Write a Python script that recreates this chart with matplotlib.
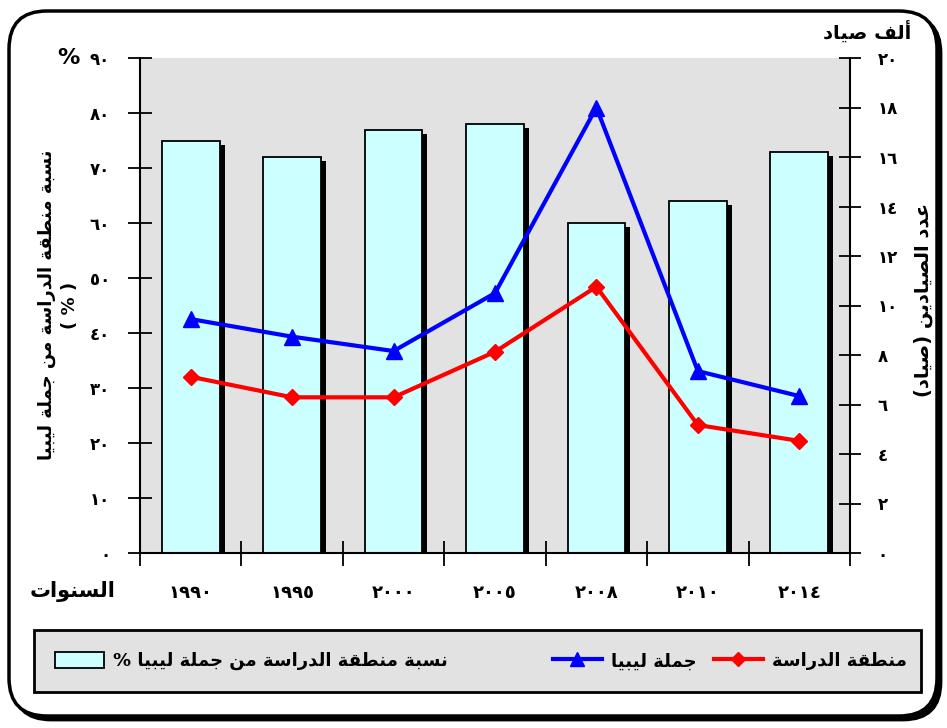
import numpy as np
import matplotlib
matplotlib.use('Agg')
import matplotlib.pyplot as plt
from matplotlib import patheffects as pe
from matplotlib.patches import FancyBboxPatch, Patch, Rectangle
from matplotlib.lines import Line2D
from matplotlib.transforms import IdentityTransform
from matplotlib.ticker import FixedLocator, FuncFormatter

# ---------------- data ----------------
years = ['١٩٩٠', '١٩٩٥', '٢٠٠٠', '٢٠٠٥', '٢٠٠٨', '٢٠١٠', '٢٠١٤']
share_pct = [75, 72, 77, 78, 60, 64, 73]              # left axis, %
libya_total = [9.45, 8.74, 8.16, 10.5, 18.0, 7.35, 6.34]   # right axis, thousand fishermen
study_area = [7.12, 6.29, 6.29, 8.13, 10.76, 5.17, 4.53]   # right axis, thousand fishermen
left_ticks = [0, 10, 20, 30, 40, 50, 60, 70, 80, 90]
right_ticks = [0, 2, 4, 6, 8, 10, 12, 14, 16, 18, 20]

label_share = 'نسبة منطقة الدراسة من جملة ليبيا %'
label_libya = 'جملة ليبيا'
label_study = 'منطقة الدراسة'
ylabel_left = 'نسبة منطقة الدراسة من جملة ليبيا'
ylabel_left2 = '( % )'
ylabel_right = 'عدد الصيادين (صياد)'
unit_right = 'ألف صياد'
unit_left = '%'
xlabel = 'السنوات'

# ---------------- minimal Arabic shaping (presentation forms + RTL) ----------------
_DUAL = {'\u0626': 0xFE89, '\u0628': 0xFE8F, '\u062A': 0xFE95, '\u062B': 0xFE99,
         '\u062C': 0xFE9D, '\u062D': 0xFEA1, '\u062E': 0xFEA5, '\u0633': 0xFEB1,
         '\u0634': 0xFEB5, '\u0635': 0xFEB9, '\u0636': 0xFEBD, '\u0637': 0xFEC1,
         '\u0638': 0xFEC5, '\u0639': 0xFEC9, '\u063A': 0xFECD, '\u0641': 0xFED1,
         '\u0642': 0xFED5, '\u0643': 0xFED9, '\u0644': 0xFEDD, '\u0645': 0xFEE1,
         '\u0646': 0xFEE5, '\u0647': 0xFEE9, '\u064A': 0xFEF1}
_RIGHT = {'\u0622': 0xFE81, '\u0623': 0xFE83, '\u0624': 0xFE85, '\u0625': 0xFE87,
          '\u0627': 0xFE8D, '\u0629': 0xFE93, '\u062F': 0xFEA9, '\u0630': 0xFEAB,
          '\u0631': 0xFEAD, '\u0632': 0xFEAF, '\u0648': 0xFEED, '\u0649': 0xFEEF}
_LAMALEF = {'\u0622': 0xFEF5, '\u0623': 0xFEF7, '\u0625': 0xFEF9, '\u0627': 0xFEFB}
_MIRROR = {'(': ')', ')': '('}


def _joins(c):
    return c in _DUAL or c in _RIGHT


def ar(text):
    out = []
    chars = list(text)
    n = len(chars)
    i = 0
    while i < n:
        c = chars[i]
        prev_links = i > 0 and chars[i - 1] in _DUAL
        if c == '\u0644' and i + 1 < n and chars[i + 1] in _LAMALEF:
            base = _LAMALEF[chars[i + 1]]
            out.append(chr(base + (1 if prev_links else 0)))
            i += 2
            continue
        if c in _DUAL:
            base = _DUAL[c]
            next_links = i + 1 < n and _joins(chars[i + 1])
            if prev_links and next_links:
                f = base + 3
            elif prev_links:
                f = base + 1
            elif next_links:
                f = base + 2
            else:
                f = base
            out.append(chr(f))
        elif c in _RIGHT:
            base = _RIGHT[c]
            out.append(chr(base + (1 if prev_links else 0)))
        else:
            out.append(c)
        i += 1
    vis = [_MIRROR.get(ch, ch) for ch in reversed(out)]
    return ''.join(vis)


def ind(v):
    return str(v).translate(str.maketrans('0123456789', '٠١٢٣٤٥٦٧٨٩'))


plt.rcParams['font.family'] = ['DejaVu Sans']
plt.rcParams['font.weight'] = 'bold'

W, H = 947, 728
fig = plt.figure(figsize=(W / 100, H / 100), dpi=100)
fig.patch.set_facecolor('white')

# outer rounded frame with shadow
shadow = FancyBboxPatch((13, 8), 928, 705, boxstyle='round,pad=0,rounding_size=38',
                        transform=IdentityTransform(), facecolor='black',
                        edgecolor='black', lw=2, zorder=-3)
frame = FancyBboxPatch((9, 12), 928, 705, boxstyle='round,pad=0,rounding_size=38',
                       transform=IdentityTransform(), facecolor='white',
                       edgecolor='black', lw=2.5, zorder=-2)
fig.patches.extend([shadow, frame])

L, R, T, B = 140, 850, 58, 553
ax = fig.add_axes([L / W, 1 - B / H, (R - L) / W, (B - T) / H])
ax.set_facecolor('#e2e2e2')
x = np.arange(len(years))
bars = ax.bar(x, share_pct, width=0.57, color='#ccffff', edgecolor='black',
              linewidth=1.3, zorder=2)
for b in bars:
    b.set_path_effects([pe.SimplePatchShadow(offset=(3.6, -3), shadow_rgbFace='black', alpha=1.0),
                        pe.Normal()])
ax.set_xlim(-0.5, len(years) - 0.5)
ax.set_ylim(0, 90)
ax.yaxis.set_major_locator(FixedLocator(left_ticks))
ax.yaxis.set_major_formatter(FuncFormatter(lambda v, p: ind(int(round(v)))))
ax.set_xticks(x)
ax.set_xticklabels(years)
ax.set_xticks(np.arange(-0.5, len(years)), minor=True)
ax.tick_params(axis='x', which='major', length=0, pad=22, labelsize=13)
ax.tick_params(axis='x', which='minor', length=18, width=1.3, direction='inout')
ax.tick_params(axis='y', which='major', length=17, width=1.3, direction='inout',
               labelsize=12, pad=13)
for s in ['top', 'right']:
    ax.spines[s].set_visible(False)
for s in ['left', 'bottom']:
    ax.spines[s].set_linewidth(1.5)

ax2 = ax.twinx()
ax2.set_ylim(0, 20)
ax2.plot(x, libya_total, color='#0000ff', lw=3, marker='^', markersize=11, zorder=3)
ax2.plot(x, study_area, color='#ff0000', lw=3, marker='D', markersize=8, zorder=3)
ax2.yaxis.set_major_locator(FixedLocator(right_ticks))
ax2.yaxis.set_major_formatter(FuncFormatter(lambda v, p: ind(int(round(v)))))
ax2.tick_params(axis='y', length=16, width=1.3, direction='inout', labelsize=12, pad=12)
for s in ['top', 'left', 'bottom']:
    ax2.spines[s].set_visible(False)
ax2.spines['right'].set_linewidth(1.5)

# texts
fig.text(58 / W, 1 - 305 / H, ar(ylabel_left) + '\n' + ylabel_left2, rotation=90,
         ha='center', va='center', fontsize=13, fontweight='bold', linespacing=1.35,
         multialignment='center')
fig.text(923 / W, 1 - 300 / H, ar(ylabel_right), rotation=90, ha='center', va='center',
         fontsize=14, fontweight='bold')
fig.text(867 / W, 1 - 32 / H, ar(unit_right), ha='center', va='center',
         fontsize=14, fontweight='bold')
fig.text(68 / W, 1 - 58 / H, unit_left, ha='center', va='center',
         fontsize=16, fontweight='bold')
fig.text(73 / W, 1 - 592 / H, ar(xlabel), ha='center', va='center',
         fontsize=15, fontweight='bold')

# legend: framed box with three entries placed like the reference
fig.patches.append(Rectangle((34, H - 692), 887, 62, transform=IdentityTransform(),
                             facecolor='#e2e2e2', edgecolor='black', lw=2, zorder=1))
handles = [Patch(facecolor='#ccffff', edgecolor='black', linewidth=1.3),
           Line2D([], [], color='#0000ff', lw=3, marker='^', markersize=10),
           Line2D([], [], color='#ff0000', lw=3, marker='D', markersize=7)]
labels = [ar(label_share), ar(label_libya), ar(label_study)]
starts = [55, 553, 714]
for h, lab, sx in zip(handles, labels, starts):
    fig.legend([h], [lab], loc='center left', bbox_to_anchor=(sx / W, 1 - 661 / H),
               fontsize=13, frameon=False, handlelength=2.7, handleheight=1.05,
               handletextpad=0.5, borderpad=0, borderaxespad=0)

fig.savefig('out.png', dpi=100)
